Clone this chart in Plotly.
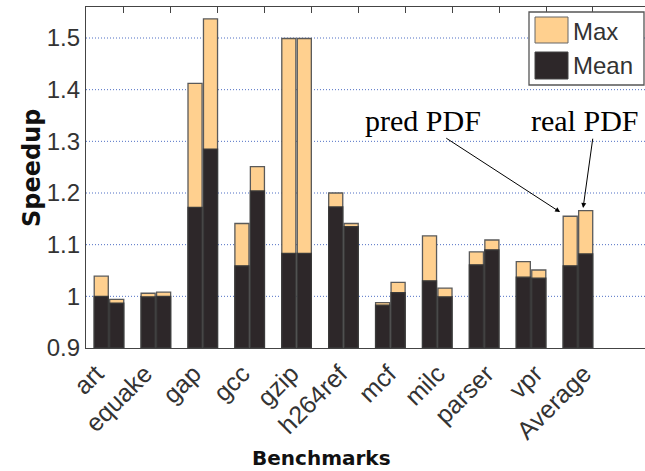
import plotly.graph_objects as go

benchmarks = ["art", "equake", "gap", "gcc", "gzip", "h264ref", "mcf", "milc", "parser", "vpr", "Average"]
pred_max = [1.039, 1.006, 1.412, 1.141, 1.499, 1.200, 0.988, 1.117, 1.086, 1.067, 1.155]
pred_mean = [1.000, 0.999, 1.172, 1.059, 1.083, 1.173, 0.983, 1.030, 1.061, 1.037, 1.059]
real_max = [0.994, 1.008, 1.537, 1.251, 1.499, 1.141, 1.027, 1.016, 1.109, 1.051, 1.166]
real_mean = [0.987, 1.000, 1.285, 1.204, 1.083, 1.135, 1.007, 0.999, 1.090, 1.035, 1.082]
y_ticks = [0.9, 1.0, 1.1, 1.2, 1.3, 1.4, 1.5]
y_tick_text = ["0.9", "1", "1.1", "1.2", "1.3", "1.4", "1.5"]

BASE = 0.9
ORANGE = "#FFD08F"
DARK = "#2D2729"
EDGE = "#5a5a5a"
W = 0.3
OFF = 0.165

idx = list(range(len(benchmarks)))
fig = go.Figure()

def add_bars(vals, off, color, name, edge):
    fig.add_trace(go.Bar(
        x=[i + off for i in idx], y=[v - BASE for v in vals], base=BASE,
        width=W, marker=dict(color=color, line=dict(color=edge, width=1.3)),
        name=name, showlegend=False,
        customdata=benchmarks, hovertemplate="%{customdata}: %{y:.3f}<extra></extra>"))

add_bars(pred_max, -OFF, ORANGE, "Max (pred PDF)", EDGE)
add_bars(real_max, OFF, ORANGE, "Max (real PDF)", EDGE)
add_bars(pred_mean, -OFF, DARK, "Mean (pred PDF)", "#3a3a3a")
add_bars(real_mean, OFF, DARK, "Mean (real PDF)", "#3a3a3a")

# invisible trace to anchor top tick axis
fig.add_trace(go.Scatter(x=[i + 0.32 for i in idx], y=[1.0] * len(idx), xaxis="x2",
                         mode="markers", marker=dict(opacity=0), showlegend=False, hoverinfo="skip"))

XR = [-0.49, 11.43]
fig.update_layout(
    width=645, height=471,
    margin=dict(l=86, r=0, t=7, b=123),
    paper_bgcolor="white", plot_bgcolor="white",
    barmode="overlay",
    showlegend=False,
    xaxis=dict(range=XR, tickvals=[1.04 * i - 0.27 for i in idx], ticktext=benchmarks,
               tickangle=-45, ticks="", showline=True, linecolor="#444", linewidth=1.3,
               mirror=True, showgrid=False, zeroline=False,
               tickfont=dict(family="Liberation Sans, Arial", size=25, color="#333")),
    xaxis2=dict(range=XR, overlaying="x", side="top", tickvals=[i + 0.32 for i in idx],
                ticks="inside", ticklen=6, tickcolor="#444", showticklabels=False,
                showgrid=False, zeroline=False, showline=False),
    yaxis=dict(range=[0.9, 1.56], tickvals=y_ticks, ticktext=y_tick_text,
               showline=True, linecolor="#444", linewidth=1.3, ticks="",
               showgrid=False, zeroline=False,
               tickfont=dict(family="Liberation Sans, Arial", size=24, color="#333")),
)

# dotted gridlines
for v in y_ticks[1:]:
    fig.add_shape(type="line", xref="paper", yref="y", x0=0, x1=1, y0=v, y1=v,
                  line=dict(color="#4f6fc4", width=1, dash="1px,2px"), layer="below")

def px(xp):
    return (xp - 86) / 559
def py(yp):
    return (348 - yp) / 341

# axis titles
fig.add_annotation(x=px(321), y=py(458), xref="paper", yref="paper", text="<b>Benchmarks</b>",
                   showarrow=False, xanchor="center", yanchor="middle",
                   font=dict(family="DejaVu Sans", size=20, color="#111"))
fig.add_annotation(x=px(32), y=py(168), xref="paper", yref="paper", text="<b>Speedup</b>",
                   showarrow=False, textangle=-90, xanchor="center", yanchor="middle",
                   font=dict(family="DejaVu Sans", size=24, color="#111"))

# annotations with arrows
fig.add_annotation(x=6.7, y=1.34, xref="x", yref="y", text="pred PDF", showarrow=False,
                   font=dict(family="Liberation Serif, Times New Roman", size=30, color="black"))
fig.add_annotation(x=10.16, y=1.34, xref="x", yref="y", text="real PDF", showarrow=False,
                   font=dict(family="Liberation Serif, Times New Roman", size=30, color="black"))
fig.add_annotation(x=9.62, y=1.163, ax=7.16, ay=1.308, xref="x", yref="y", axref="x", ayref="y",
                   text="", showarrow=True, arrowhead=2, arrowsize=1, arrowwidth=1, arrowcolor="black")
fig.add_annotation(x=10.11, y=1.171, ax=10.32, ay=1.308, xref="x", yref="y", axref="x", ayref="y",
                   text="", showarrow=True, arrowhead=2, arrowsize=1, arrowwidth=1, arrowcolor="black")

# legend drawn manually
fig.add_shape(type="rect", xref="paper", yref="paper", x0=px(529), x1=px(644), y0=py(85), y1=py(12),
              line=dict(color="#555", width=1.3), fillcolor="white")
fig.add_shape(type="rect", xref="paper", yref="paper", x0=px(535), x1=px(568), y0=py(43), y1=py(17),
              line=dict(color="#666", width=1), fillcolor=ORANGE)
fig.add_shape(type="rect", xref="paper", yref="paper", x0=px(535), x1=px(568), y0=py(79), y1=py(52),
              line=dict(color="#444", width=1), fillcolor=DARK)
fig.add_annotation(x=px(571), y=py(31), xref="paper", yref="paper", text="Max", showarrow=False,
                   xanchor="left", yanchor="middle",
                   font=dict(family="Liberation Sans, Arial", size=24, color="#333"))
fig.add_annotation(x=px(571), y=py(66), xref="paper", yref="paper", text="Mean", showarrow=False,
                   xanchor="left", yanchor="middle",
                   font=dict(family="Liberation Sans, Arial", size=24, color="#333"))

fig.write_html("out.html", config={"displayModeBar": False},
               post_script="document.body.style.margin='0';document.body.style.overflow='hidden';")
